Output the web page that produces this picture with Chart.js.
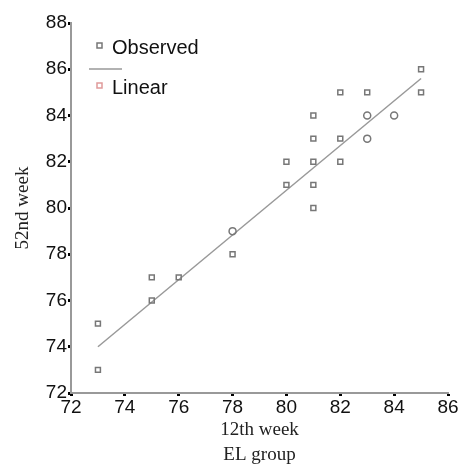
<!DOCTYPE html>
<html><head><meta charset="utf-8">
<script src="https://cdn.jsdelivr.net/npm/chart.js@4/dist/chart.umd.min.js"></script>
<style>html,body{margin:0;padding:0;background:#fff}#w{width:461px;height:467px}</style>
</head><body><div id="w"><canvas id="c"></canvas></div>
<script>
const obsX = [73,73,75,75,76,78,78,80,80,81,81,81,81,81,82,82,82,83,83,83,84,85,85];
const obsY = [75,73,77,76,77,79,78,82,81,84,83,82,81,80,85,83,82,85,84,83,84,86,85];
const obsStyle = ['rect','rect','rect','rect','rect','circle','rect','rect','rect','rect','rect','rect','rect','rect','rect','rect','rect','rect','circle','circle','circle','rect','rect'];
const fitX = [73,85];
const fitY = [74.0,85.6];
const xTicks = [72,74,76,78,80,82,84,86];
const yTicks = [72,74,76,78,80,82,84,86,88];
const legendLabels = ['Observed','Linear'];
const xTitle = ['12th week','EL group'];
const yTitle = '52nd week';

const legendPlugin = {
  id:'customLegend',
  afterDraw(chart){
    const ctx = chart.ctx;
    ctx.save();
    ctx.font = '20px "Liberation Sans", Arial, sans-serif';
    ctx.fillStyle = '#111';
    ctx.textBaseline = 'middle';
    ctx.fillText(legendLabels[0], 112, 48);
    ctx.fillText(legendLabels[1], 112, 88);
    ctx.lineWidth = 1.5;
    ctx.strokeStyle = '#777';
    ctx.strokeRect(97, 43, 5, 5);
    ctx.strokeStyle = '#e09a9a';
    ctx.strokeRect(97, 83, 5, 5);
    ctx.strokeStyle = '#999';
    ctx.beginPath(); ctx.moveTo(89, 69); ctx.lineTo(122, 69); ctx.stroke();
    ctx.restore();
  }
};

new Chart(document.getElementById('c'), {
  type:'scatter',
  data:{datasets:[
    {type:'line', data: fitX.map((x,i)=>({x, y:fitY[i]})), borderColor:'#999', borderWidth:1.5, pointRadius:0, fill:false, order:2},
    {data: obsX.map((x,i)=>({x, y:obsY[i]})), pointStyle: obsStyle, pointRadius:3.5, borderColor:'#777', borderWidth:1.5, backgroundColor:'rgba(255,255,255,0)', order:1}
  ]},
  options:{
    responsive:true, maintainAspectRatio:false, animation:false,
    layout:{padding:{top:23, right:13, left:0, bottom:0}},
    plugins:{legend:{display:false}, tooltip:{enabled:false}},
    scales:{
      x:{type:'linear', min:72, max:86, afterBuildTicks(s){s.ticks = xTicks.map(v=>({value:v}));},
        grid:{display:true, drawOnChartArea:false, tickLength:3, tickColor:'#000', tickWidth:3},
        border:{color:'#999', width:2},
        ticks:{color:'#111', font:{family:'"Liberation Sans", Arial, sans-serif', size:19}, padding:0, maxRotation:0},
        title:{display:true, text:xTitle, color:'#222', font:{family:'"Liberation Serif", "Times New Roman", serif', size:19, lineHeight:1.3}, padding:{top:0,bottom:0}},
        afterFit(s){s.height = 74;}
      },
      y:{type:'linear', min:72, max:88, afterBuildTicks(s){s.ticks = yTicks.map(v=>({value:v}));},
        grid:{display:true, drawOnChartArea:false, tickLength:3, tickColor:'#000', tickWidth:3},
        border:{color:'#999', width:2},
        ticks:{color:'#111', font:{family:'"Liberation Sans", Arial, sans-serif', size:19}, padding:1},
        title:{display:true, text:yTitle, color:'#222', font:{family:'"Liberation Serif", "Times New Roman", serif', size:19}, padding:{top:12,bottom:0}},
        afterFit(s){s.width = 71;}
      }
    }
  },
  plugins:[legendPlugin]
});
</script></body></html>
